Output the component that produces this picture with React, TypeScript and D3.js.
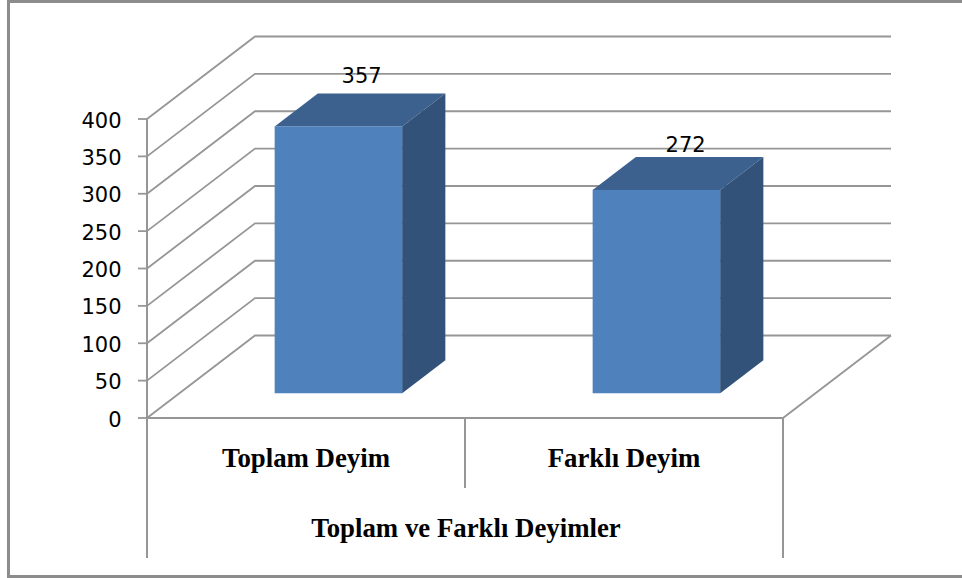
import React from "react";
import * as d3 from "d3";

const categories = ["Toplam Deyim", "Farklı Deyim"];
const values = [357, 272];
const yTicks = [0, 50, 100, 150, 200, 250, 300, 350, 400];
const axisTitle = "Toplam ve Farklı Deyimler";

const width = 962;
const height = 578;

const GRID = "#969696";
const LABEL_FONT = "'DejaVu Sans', sans-serif";
const CAT_FONT = "'Liberation Serif', serif";

// oblique depth of the 3D box
const depthX = 108;
const depthY = -82.5;
const barDepthStart = 0.3;
const barDepthSize = 0.4;

// where the data labels sit relative to each bar's front top-left corner
const labelDx = [87, 93];
const labelDy = [-43.5, -37.5];

const y = d3.scaleLinear().domain([0, 400]).range([418, 119]);
const x = d3.scaleBand<string>().domain(categories).range([147, 783]).paddingInner(0).paddingOuter(0);
const barW = 127.5;

const poly = (pts: [number, number][]) => d3.line()(pts) + "Z";

export default function App() {
  const x0 = x.range()[0];
  const x1 = x.range()[1];
  const y0 = y(0);
  return (
    <svg
      width={width}
      height={height}
      style={{ position: "absolute", left: 0, top: 0, background: "#fff" }}
    >
      {/* frame: the right side is cropped off in the original */}
      <path
        d={`M${width},1.5H8.5V576.5H${width}`}
        fill="none"
        stroke="#8c8c8c"
        strokeWidth={3}
      />

      {/* back wall and side wall gridlines */}
      {yTicks.map((t) => (
        <g key={t} fill="none" stroke={GRID} strokeWidth={1.8}>
          <path
            d={d3.line()([[x0, y(t)], [x0 + depthX, y(t) + depthY], [x1 + depthX, y(t) + depthY]])!}
          />
          <line x1={x0 - 9} x2={x0} y1={y(t)} y2={y(t)} />
        </g>
      ))}

      {/* floor */}
      <path
        d={`M${x0},${y0}H${x1}L${x1 + depthX},${y0 + depthY}`}
        fill="none"
        stroke={GRID}
        strokeWidth={1.8}
      />

      {/* axis and category dividers */}
      <g stroke={GRID} strokeWidth={2}>
        <line x1={x0} x2={x0} y1={y(400)} y2={558} />
        <line x1={x(categories[1])} x2={x(categories[1])} y1={y0} y2={488} />
        <line x1={x1} x2={x1} y1={y0} y2={558} />
      </g>

      {yTicks.map((t) => (
        <text
          key={t}
          x={121.5}
          y={y(t) + 8.5}
          textAnchor="end"
          fontFamily={LABEL_FONT}
          fontSize={21}
          fill="#000"
        >
          {t}
        </text>
      ))}

      {/* bars */}
      {categories.map((c, i) => {
        const left = x(c)! + (x.bandwidth() - barW) / 2 + depthX * barDepthStart;
        const right = left + barW;
        const bottom = y0 + depthY * barDepthStart;
        const top = bottom - (y0 - y(values[i]));
        const dx = depthX * barDepthSize;
        const dy = depthY * barDepthSize;
        return (
          <g key={c}>
            <path
              d={poly([[left, top], [left + dx, top + dy], [right + dx, top + dy], [right, top]])}
              fill="#3c618f"
            />
            <path
              d={poly([[right, top], [right + dx, top + dy], [right + dx, bottom + dy], [right, bottom]])}
              fill="#325279"
            />
            <rect x={left} y={top} width={barW} height={bottom - top} fill="#4f81bd" />
            <text
              x={left + labelDx[i]}
              y={top + labelDy[i]}
              textAnchor="middle"
              fontFamily={LABEL_FONT}
              fontSize={21}
              fill="#000"
            >
              {values[i]}
            </text>
          </g>
        );
      })}

      {categories.map((c) => (
        <text
          key={c}
          x={x(c)! + x.bandwidth() / 2}
          y={467}
          textAnchor="middle"
          fontFamily={CAT_FONT}
          fontWeight="bold"
          fontSize={26.8}
          fill="#000"
        >
          {c}
        </text>
      ))}
      <text
        x={466}
        y={537}
        textAnchor="middle"
        fontFamily={CAT_FONT}
        fontWeight="bold"
        fontSize={26.8}
        fill="#000"
      >
        {axisTitle}
      </text>
    </svg>
  );
}
